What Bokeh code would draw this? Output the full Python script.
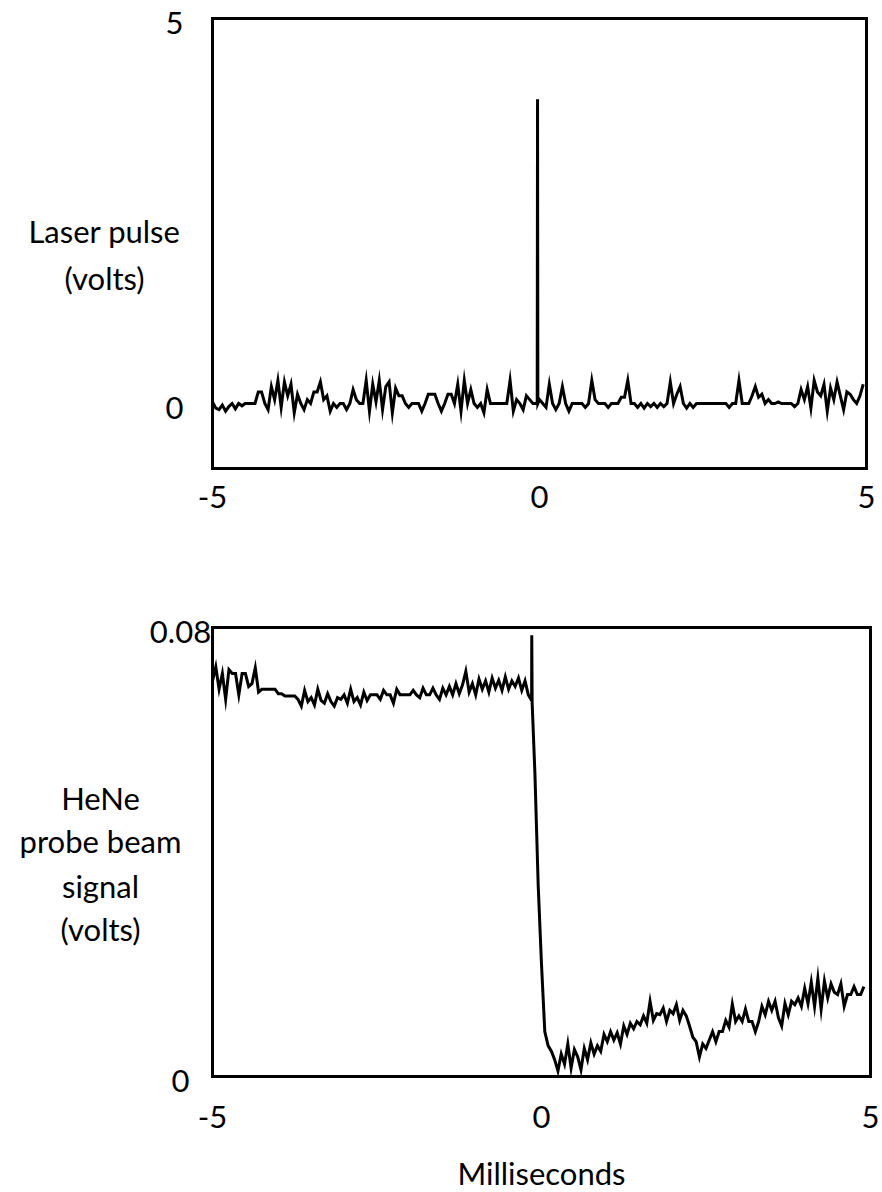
import numpy as np
from bokeh.plotting import figure
from bokeh.layouts import column
from bokeh.models import Range1d
from bokeh.core.properties import value
from bokeh.embed import file_html
from bokeh.resources import INLINE

FONT = "Lato"
FONT_SIZE = "31px"

# Laser pulse photodiode trace (volts), sampled every 0.05 ms from -5 ms
laser_v = [
    0.02, -0.06, -0.08, -0.02, -0.10, -0.04, 0.00, -0.07, 0.00, -0.03,
    0.00, 0.00, 0.00, 0.00, 0.15, 0.15, 0.00, -0.08, 0.22, 0.05,
    0.30, -0.05, 0.28, 0.10, 0.25, -0.12, 0.12, 0.00, -0.08, 0.05,
    0.00, 0.15, 0.15, 0.28, 0.05, 0.10, -0.10, 0.00, -0.05, 0.00,
    0.00, -0.08, 0.00, 0.18, 0.05, 0.00, 0.00, 0.30, -0.10, 0.25,
    0.02, 0.30, -0.08, 0.22, 0.28, -0.12, 0.20, 0.10, 0.10, 0.00,
    -0.05, 0.00, 0.00, 0.00, -0.10, 0.00, 0.12, 0.12, 0.12, 0.00,
    -0.10, 0.00, 0.12, 0.12, 0.00, 0.25, -0.10, 0.30, 0.00, 0.18,
    0.00, -0.05, 0.00, -0.12, 0.18, 0.00, 0.00, 0.00, 0.00, 0.00,
    0.00, 0.30, -0.10, 0.05, 0.00, -0.08, 0.10, 0.05, 0.00, 0.00,
    0.05, 0.00, -0.05, 0.25, 0.00, -0.08, 0.00, 0.22, 0.00, -0.10,
    0.00, 0.00, 0.00, 0.00, -0.05, 0.00, 0.30, 0.05, 0.00, 0.00,
    0.00, -0.05, 0.00, 0.00, 0.00, 0.08, 0.08, 0.30, 0.00, 0.00,
    -0.05, 0.00, -0.06, 0.00, -0.04, 0.00, -0.05, 0.00, -0.04, 0.00,
    0.28, 0.00, 0.12, 0.22, 0.00, -0.06, 0.00, -0.05, 0.00, 0.00,
    0.00, 0.00, 0.00, 0.00, 0.00, 0.00, 0.00, 0.00, -0.05, 0.00,
    0.00, 0.30, 0.00, 0.00, 0.00, 0.10, 0.22, 0.08, 0.12, 0.00,
    0.05, 0.00, 0.00, 0.02, 0.00, 0.00, 0.00, 0.00, -0.04, 0.00,
    0.18, 0.05, 0.22, -0.06, 0.30, 0.15, 0.10, 0.25, -0.10, 0.20,
    0.05, 0.28, 0.10, -0.08, 0.15, 0.12, 0.05, 0.00, 0.10, 0.25,
]
# the pulse itself, resolved more finely
pulse_t = [-0.035, -0.030, -0.025]
pulse_v = [0.00, 3.95, 0.00]

# HeNe probe beam signal (volts), sampled every 0.05 ms from -5 ms
probe_v = [
    0.0705, 0.0730, 0.0690, 0.0718, 0.0672, 0.0725, 0.0718, 0.0718, 0.0680, 0.0718,
    0.0718, 0.0695, 0.0700, 0.0728, 0.0685, 0.0690, 0.0690, 0.0690, 0.0690, 0.0690,
    0.0682, 0.0682, 0.0678, 0.0678, 0.0678, 0.0678, 0.0672, 0.0660, 0.0688, 0.0668,
    0.0675, 0.0662, 0.0690, 0.0670, 0.0665, 0.0682, 0.0668, 0.0660, 0.0675, 0.0672,
    0.0680, 0.0665, 0.0690, 0.0668, 0.0675, 0.0662, 0.0685, 0.0670, 0.0680, 0.0680,
    0.0680, 0.0672, 0.0688, 0.0680, 0.0680, 0.0665, 0.0690, 0.0680, 0.0680, 0.0680,
    0.0680, 0.0688, 0.0680, 0.0675, 0.0692, 0.0680, 0.0680, 0.0692, 0.0680, 0.0672,
    0.0692, 0.0680, 0.0695, 0.0680, 0.0700, 0.0682, 0.0698, 0.0722, 0.0685, 0.0700,
    0.0680, 0.0708, 0.0690, 0.0705, 0.0685, 0.0710, 0.0692, 0.0706, 0.0688, 0.0712,
    0.0690, 0.0705, 0.0695, 0.0710, 0.0688, 0.0705, 0.0680, 0.0670, 0.0540, 0.0340,
    0.0200, 0.0080, 0.0055, 0.0045, 0.0030, 0.0010, 0.0040, 0.0022, 0.0058, 0.0015,
    0.0048, 0.0035, 0.0012, 0.0050, 0.0030, 0.0060, 0.0040, 0.0055, 0.0045, 0.0075,
    0.0062, 0.0080, 0.0065, 0.0078, 0.0058, 0.0090, 0.0075, 0.0095, 0.0085, 0.0098,
    0.0092, 0.0108, 0.0095, 0.0134, 0.0100, 0.0112, 0.0110, 0.0122, 0.0098, 0.0118,
    0.0112, 0.0128, 0.0100, 0.0118, 0.0108, 0.0090, 0.0070, 0.0062, 0.0035, 0.0058,
    0.0050, 0.0065, 0.0080, 0.0062, 0.0080, 0.0080, 0.0100, 0.0088, 0.0129, 0.0098,
    0.0108, 0.0098, 0.0120, 0.0098, 0.0098, 0.0080, 0.0098, 0.0125, 0.0110, 0.0134,
    0.0118, 0.0134, 0.0105, 0.0090, 0.0130, 0.0110, 0.0134, 0.0128, 0.0140, 0.0125,
    0.0157, 0.0130, 0.0168, 0.0125, 0.0175, 0.0120, 0.0170, 0.0140, 0.0165, 0.0150,
    0.0146, 0.0165, 0.0125, 0.0146, 0.0146, 0.0160, 0.0146, 0.0146, 0.0160,
]
# transient spike when the pulse arrives
spike_t = [-0.148, -0.142]
spike_v = [0.0786, 0.0665]

x_ticks = [-5, 0, 5]
x_tick_text = ["-5", "0", "5"]
laser_ticks = [0, 5]
laser_tick_text = ["0", "5"]
probe_ticks = [0, 0.08]
probe_tick_text = ["0", "0.08"]

laser_title = ["Laser pulse", "(volts)"]
probe_title = ["HeNe", "probe beam", "signal", "(volts)"]
x_title = "Milliseconds"

SAMPLE_MS = 0.05
WIDTH = 882
TOP_H = 560
BOTTOM_H = 1192 - TOP_H


def merged(values, extra_t, extra_v):
    t = -5.0 + SAMPLE_MS * np.arange(len(values))
    t = np.concatenate([t, extra_t])
    v = np.concatenate([values, extra_v])
    order = np.argsort(t)
    return t[order], v[order]


class Panel:
    """Maps panel pixel positions to data space so text can sit beside the box."""

    def __init__(self, height, x5_px, ms_px, y0_px, unit_px):
        self.x5_px, self.ms_px = x5_px, ms_px
        self.y0_px, self.unit_px = y0_px, unit_px
        self.fig = figure(
            frame_width=WIDTH, frame_height=height,
            min_border_left=0, min_border_right=0,
            min_border_top=0, min_border_bottom=0,
            x_range=Range1d(self.x(0), self.x(WIDTH)),
            y_range=Range1d(self.y(height), self.y(0)),
            x_axis_location=None, y_axis_location=None,
            output_backend="svg", toolbar_location=None)
        f = self.fig
        f.xgrid.grid_line_color = None
        f.ygrid.grid_line_color = None
        f.outline_line_color = None
        f.background_fill_color = "white"
        f.border_fill_color = "white"

    def x(self, px):
        return -5.0 + (px - self.x5_px) / self.ms_px

    def y(self, py):
        return (self.y0_px - py) / self.unit_px

    def text(self, xs, ys, texts, x_offset=0, y_offset=0):
        self.fig.text(x=xs, y=ys, text=texts, x_offset=x_offset, y_offset=y_offset,
                      text_font=value(FONT), text_font_size=value(FONT_SIZE),
                      text_align="center", text_baseline="middle",
                      text_color="black")

    def box(self, bottom, top):
        self.fig.quad(left=[x_ticks[0]], right=[x_ticks[-1]], bottom=[bottom], top=[top],
                      fill_color=None, line_color="black", line_width=3,
                      line_join="miter")


# --- Laser pulse panel ---
top = Panel(TOP_H, x5_px=212, ms_px=65.4, y0_px=403, unit_px=77.0)
lt, lv = merged(laser_v, pulse_t, pulse_v)
top.fig.line(lt, lv, line_color="black", line_width=3, line_join="miter")
top.box(top.y(468), laser_ticks[-1])
top.text([x_ticks[0]] * 2, laser_ticks, laser_tick_text, x_offset=-38, y_offset=4)
top.text(x_ticks, [top.y(496)] * 3, x_tick_text)
top.text([top.x(104)] * 2, [top.y(230), top.y(277)], laser_title)

# --- HeNe probe panel ---
bot = Panel(BOTTOM_H, x5_px=212, ms_px=65.8, y0_px=516, unit_px=449 / 0.08)
pt, pv = merged(probe_v, spike_t, spike_v)
bot.fig.line(pt, pv, line_color="black", line_width=3, line_join="miter")
bot.box(probe_ticks[0], probe_ticks[-1])
bot.text([x_ticks[0]] * 2, probe_ticks, probe_tick_text, x_offset=-32, y_offset=4)
bot.text(x_ticks, [bot.y(556)] * 3, x_tick_text)
bot.text([0], [bot.y(612)], [x_title])
bot.text([bot.x(100)] * 4, [bot.y(237), bot.y(280), bot.y(325), bot.y(368)], probe_title)

layout = column(top.fig, bot.fig, spacing=0)
open("out.html", "w").write(file_html(layout, INLINE))
